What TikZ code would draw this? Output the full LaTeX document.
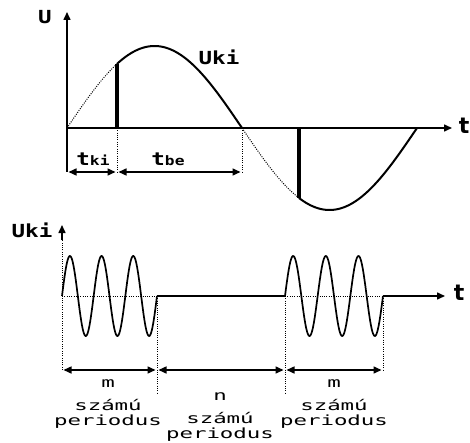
\documentclass[tikz,border=0pt]{standalone}
\usepackage{fontspec}
\usetikzlibrary{arrows.meta}
\newfontfamily\lblfont{DejaVu Sans Mono}
\newfontfamily\tfont{DejaVu Sans}
\begin{document}
\begin{tikzpicture}[x=1pt,y=-1pt,
  axisline/.style={line width=1.5pt},
  tip/.style={-{Triangle[length=8pt,width=7pt]}},
  dimline/.style={{Triangle[length=8pt,width=7pt]}-{Triangle[length=8pt,width=7pt]}, line width=1.5pt, shorten <=1.5pt, shorten >=1.5pt},
  dotline/.style={line width=1pt, dash pattern=on 1pt off 1.3pt},
  curvebold/.style={line width=2pt},
  curvethin/.style={line width=1.7pt},
  heavy/.style={line width=3.4pt},
  boldlbl/.style={inner sep=0pt, font=\lblfont\bfseries\fontsize{18}{18}\selectfont, xscale=1.25},
  monolbl/.style={inner sep=0pt, font=\lblfont\fontsize{14}{14}\selectfont, xscale=1.6},
  tlbl/.style={inner sep=0pt, font=\tfont\bfseries\fontsize{22}{22}\selectfont}]
\useasboundingbox (0,0) rectangle (470,443);
% ---------- top graph ----------
\coordinate (O1) at (67,128);
\coordinate (Ytop) at (67,12);
\coordinate (Ybot) at (67,172);
\coordinate (Xend) at (452,128);
\coordinate (A1) at (117,128);
\coordinate (A1d) at (117,172);
\coordinate (Z1) at (242,128);
\coordinate (Z1d) at (242,172);
\coordinate (B1) at (299,128);
\coordinate (Pa) at (117,64);
\coordinate (Pb) at (299,198);
\draw[axisline] (Ybot) -- (O1);
\draw[axisline,tip] (O1) -- (Ytop);
\draw[axisline,tip] (O1) -- (Xend);
\node[tlbl] (tt) at (464,126) {t};
\node[boldlbl] (U) at (45,17) {U};
\node[boldlbl] (Uki) at (219,57) {Uki};
% sine parts
\draw[dotline] plot[domain=67:117,samples=30] (\x,{128-82*sin((\x-67)/350*360)});
\draw[curvebold] plot[domain=117:242,samples=70] (\x,{128-82*sin((\x-67)/350*360)});
\draw[dotline] plot[domain=242:299,samples=30] (\x,{128-82*sin((\x-67)/350*360)});
\draw[curvebold] plot[domain=299:417,samples=70] (\x,{128-82*sin((\x-67)/350*360)});
\draw[heavy] (A1) -- (Pa);
\draw[heavy] (B1) -- (Pb);
\draw[dotline] (A1) -- (A1d);
\draw[dotline] (Z1) -- (Z1d);
\draw[dimline] (Ybot) -- (A1d);
\draw[dimline] (A1d) -- (Z1d);
\node[boldlbl] (tki) at (93,159) {t{\fontsize{13}{13}\selectfont ki}};
\node[boldlbl] (tbe) at (168,159) {t{\fontsize{13}{13}\selectfont be}};
% ---------- bottom graph ----------
\coordinate (O2) at (62,296);
\coordinate (Y2top) at (62,225);
\coordinate (Y2tipbase) at (62,240);
\coordinate (Y2bot) at (62,370);
\coordinate (E1) at (157,296);
\coordinate (S2) at (285,296);
\coordinate (E2) at (383,296);
\coordinate (X2end) at (445,296);
\coordinate (E1d) at (157,393);
\coordinate (S2d) at (285,393);
\coordinate (E2d) at (383,370);
\coordinate (D0) at (62,370);
\coordinate (D1) at (157,370);
\coordinate (D2) at (285,370);
\coordinate (D3) at (383,370);
\draw[dotline] (Y2bot) -- (Y2tipbase);
\draw[axisline,tip] (Y2tipbase) -- (Y2top);
\node[boldlbl] (Uki2) at (32,230) {Uki};
\draw[dotline] (O2) -- (E1);
\draw[dotline] (S2) -- (E2);
\draw[axisline] (E1) -- (S2);
\draw[axisline,tip] (E2) -- (X2end);
\node[tlbl] (tt2) at (459,293) {t};
\draw[curvethin] plot[domain=62:157,samples=150] (\x,{296-40*sin((\x-62)/31.667*360)});
\draw[curvethin] plot[domain=285:383,samples=150] (\x,{296-40*sin((\x-285)/32.667*360)});
\draw[dotline] (E1) -- (E1d);
\draw[dotline] (S2) -- (S2d);
\draw[dotline] (E2) -- (E2d);
\draw[dimline] (D0) -- (D1);
\draw[dimline] (D1) -- (D2);
\draw[dimline] (D2) -- (D3);
\node[monolbl] (m1) at (108,384) {m};
\node[monolbl] (s1) at (108,405) {számú};
\node[monolbl] (p1) at (108,422) {periodus};
\node[monolbl] (n1) at (220,397) {n};
\node[monolbl] (s2) at (220,418) {számú};
\node[monolbl] (p2) at (220,435) {periodus};
\node[monolbl] (m2) at (334,384) {m};
\node[monolbl] (s3) at (334,405) {számú};
\node[monolbl] (p3) at (334,422) {periodus};
\end{tikzpicture}
\end{document}
